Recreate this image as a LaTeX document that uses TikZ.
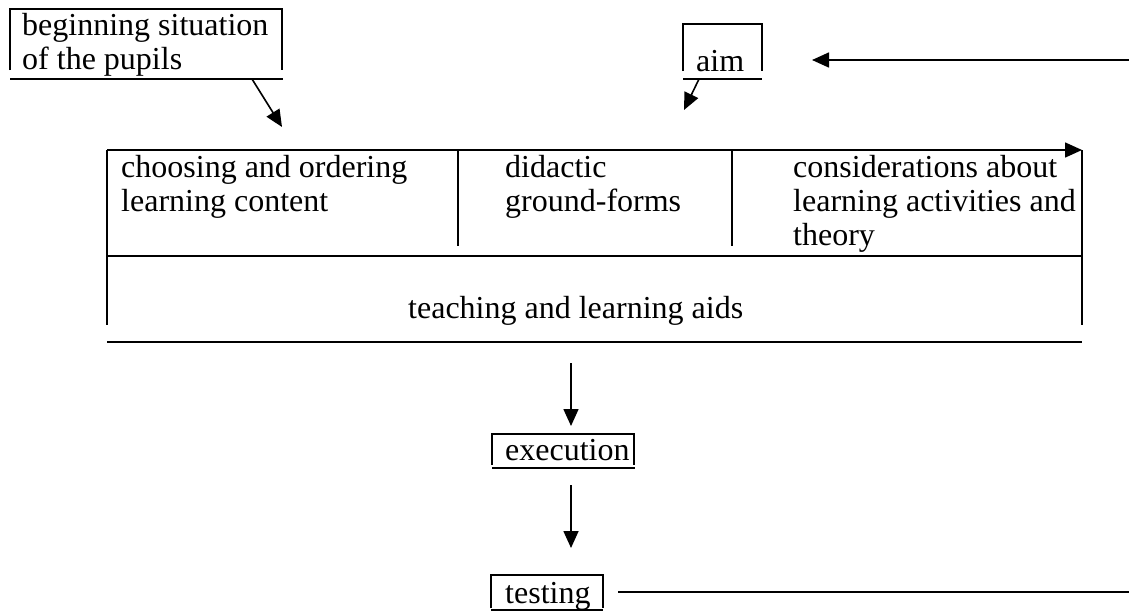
\documentclass[tikz,border=0pt]{standalone}
\usepackage{fontspec}
\setmainfont{Liberation Serif}
\usetikzlibrary{arrows.meta}
\begin{document}
\begin{tikzpicture}[x=1pt,y=-1pt,
  ln/.style={line width=1.6pt, line cap=butt},
  arr/.style={ln, -{Triangle[length=17pt,width=15pt]}},
  txt/.style={inner sep=0pt, anchor=base west, font=\fontsize{32}{34}\selectfont}]
\useasboundingbox (0,0) rectangle (1129,611);

% box: beginning situation
\draw[ln] (10,70) -- (10,9) -- (282,9) -- (282,70);
\draw[ln] (10,79) -- (283,79);
\node[txt] (begin) at (22,35) {\begin{tabular}[t]{@{}l@{}}beginning situation\\of the pupils\end{tabular}};
\coordinate (beginTail) at (252,79);
\coordinate (beginTip) at (282,127);
\draw[arr] (beginTail) -- (beginTip);

% box: aim
\draw[ln] (683,71) -- (683,24) -- (762,24) -- (762,71);
\draw[ln] (683,79) -- (762,79);
\node[txt] (aim) at (696,71) {aim};
\coordinate (aimTail) at (699,79);
\coordinate (aimTip) at (684,110);
\draw[arr] (aimTail) -- (aimTip);
\coordinate (backTail) at (1129,60);
\coordinate (backTip) at (812,60);
\draw[arr] (backTail) -- (backTip);

% main box
\coordinate (mTL) at (107,150);
\coordinate (mTR) at (1082,150);
\draw[ln] (mTL) -- (107,325);
\draw[arr] (mTL) -- (mTR);
\draw[ln] (mTR) -- (1082,325);
\draw[ln] (458,150) -- (458,246);
\draw[ln] (732,150) -- (732,246);
\draw[ln] (107,256) -- (1082,256);
\draw[ln] (107,342) -- (1082,342);
\node[txt] (choose) at (121,177) {\begin{tabular}[t]{@{}l@{}}choosing and ordering\\learning content\end{tabular}};
\node[txt] (didactic) at (505,177) {\begin{tabular}[t]{@{}l@{}}didactic\\ground-forms\end{tabular}};
\node[txt] (consid) at (793,177) {\begin{tabular}[t]{@{}l@{}}considerations about\\learning activities and\\theory\end{tabular}};
\node[txt] (aids) at (408,318) {teaching and learning aids};

% execution
\coordinate (m2eTail) at (571,363);
\coordinate (m2eTip) at (571,426);
\draw[arr] (m2eTail) -- (m2eTip);
\draw[ln] (492,465) -- (492,434) -- (634,434) -- (634,465);
\draw[ln] (492,468) -- (635,468);
\node[txt] (exec) at (505,460) {execution};

% testing
\coordinate (e2tTail) at (571,485);
\coordinate (e2tTip) at (571,548);
\draw[arr] (e2tTail) -- (e2tTip);
\draw[ln] (491,608) -- (491,575) -- (603,575) -- (603,608);
\draw[ln] (491,610) -- (603,610);
\node[txt] (test) at (505,603) {testing};
\coordinate (testEnd) at (1129,592);
\draw[ln] (618,592) -- (testEnd);
\end{tikzpicture}
\end{document}
